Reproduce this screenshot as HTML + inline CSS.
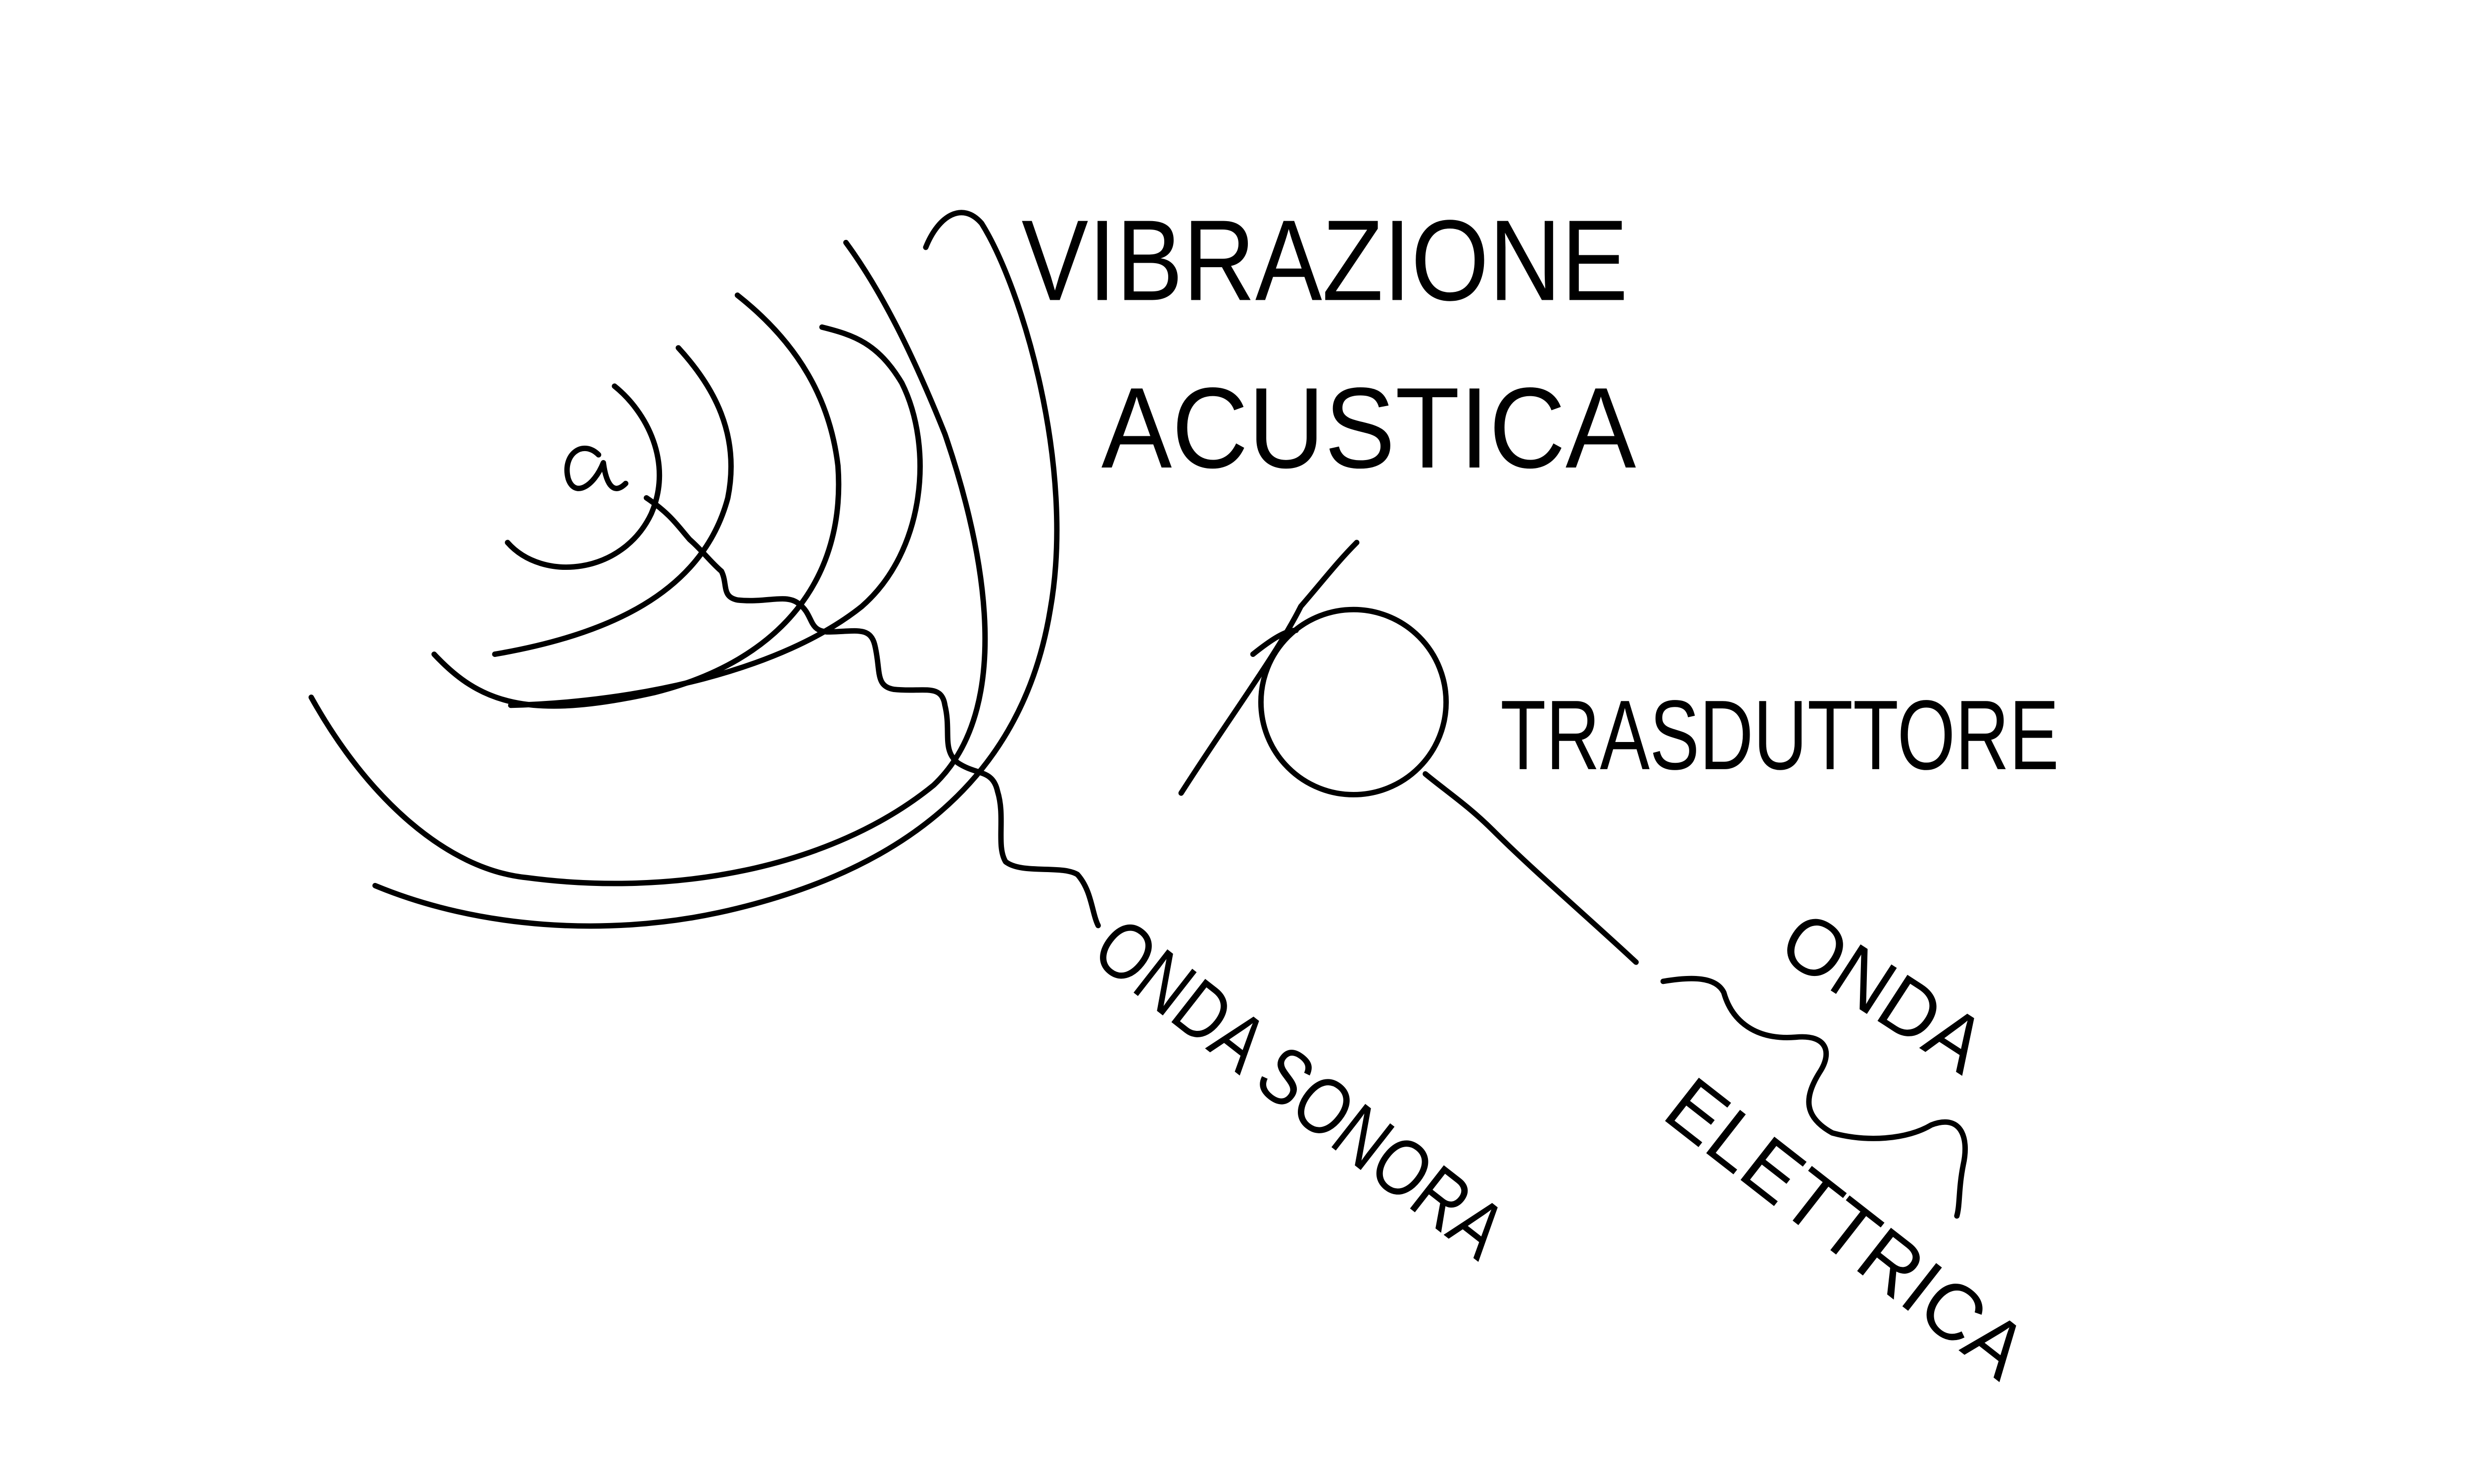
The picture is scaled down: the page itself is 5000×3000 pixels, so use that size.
<!DOCTYPE html>
<html><head><meta charset="utf-8"><style>
html,body{margin:0;padding:0;background:#fff;width:5000px;height:3000px;overflow:hidden}
svg{display:block}
text{font-family:"Liberation Sans",sans-serif;fill:#000;font-weight:normal}
</style></head><body>
<svg width="5000" height="3000" viewBox="0 0 1550 930" xmlns="http://www.w3.org/2000/svg">
<rect width="1550" height="930" fill="#fff"/>
<g fill="none" stroke="#000" stroke-width="3.4" stroke-linecap="round" stroke-linejoin="round">
<g>
<path d="M318,340 C340,365 390,360 408,322 C422,290 405,258 385,242"/>
<path d="M310,410 C380,398 440,372 456,312 C464,272 447,242 425,218"/>
<path d="M272,410 C300,440 330,452 410,434 C490,414 530,362 525,292 C520,250 500,215 462,185"/>
<path d="M320,442 C400,440 490,420 540,380 C580,345 585,280 565,240 C550,215 535,210 515,205"/>
<path d="M195,437 C230,500 280,545 330,550 C420,562 520,545 585,492 C640,440 612,330 592,272 C572,222 552,182 530,152"/>
<path d="M235,555 C300,582 380,587 450,572 C560,548 640,492 658,382 C674,292 640,180 615,140 C603,126 588,135 580,155"/>
</g>
<path d="M375,285 C365,275 352,285 356,300 C360,312 372,305 378,290 C380,305 385,310 392,303"/>
<path d="M405,312 C420,322 425,330 432,338 C440,345 445,352 452,358 C456,366 452,374 462,376 C480,378 492,372 500,378 C510,385 506,395 518,396 C535,396 545,392 548,404 C552,420 548,430 560,432 C578,434 590,428 592,442 C596,458 590,470 600,478 C612,486 622,482 625,496 C630,512 624,530 630,540 C640,548 665,542 675,548 C684,558 684,572 688,580"/>
<g>
<circle cx="848" cy="440" r="58"/>
<path d="M740,497 C770,450 800,410 815,380 C828,365 838,352 850,340"/>
<path d="M785,410 C795,402 805,395 812,395"/>
<path d="M893,485 C905,495 920,505 935,520 C960,545 995,575 1025,603"/>
</g>
<path d="M1042,615 C1060,612 1075,612 1080,622 C1085,640 1100,652 1125,650 C1145,648 1148,660 1140,672 C1130,688 1130,700 1148,710 C1170,716 1195,714 1210,705 C1228,698 1234,712 1230,730 C1227,745 1228,755 1226,762"/>
</g>
<text x="640" y="188" font-size="72" textLength="380" lengthAdjust="spacingAndGlyphs">VIBRAZIONE</text>
<text x="690" y="293" font-size="72" textLength="335" lengthAdjust="spacingAndGlyphs">ACUSTICA</text>
<text x="940" y="482" font-size="62" textLength="350" lengthAdjust="spacingAndGlyphs">TRASDUTTORE</text>
<text transform="translate(682,600) rotate(38)" font-size="50" textLength="310" lengthAdjust="spacingAndGlyphs">ONDA SONORA</text>
<text transform="translate(1112,598) rotate(33)" font-size="50" textLength="140" lengthAdjust="spacingAndGlyphs">ONDA</text>
<text transform="translate(1040,700) rotate(38)" font-size="50" textLength="270" lengthAdjust="spacingAndGlyphs">ELETTRICA</text>
</svg>
</body></html>
